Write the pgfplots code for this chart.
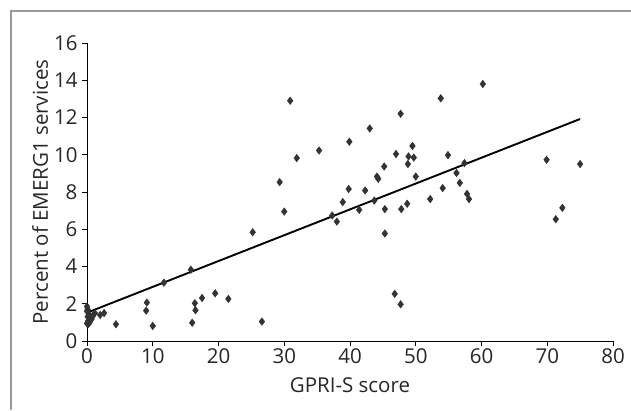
\documentclass[border=0pt]{standalone}
\usepackage{pgfplots}
\pgfplotsset{compat=1.18}
\usepackage{fontspec}
\setmainfont{Open Sans}
\begin{document}
\begin{tikzpicture}[x=1pt,y=1pt]
\path[use as bounding box] (0,0) rectangle (631,410);
\draw[gray!80, line width=1.2pt] (11,0) -- (11,399) -- (631,399);
\begin{axis}[
  at={(87pt,69pt)}, anchor=origin,
  scale only axis, width=526pt, height=298pt,
  xmin=0, xmax=80, ymin=0, ymax=16,
  axis lines=left, axis line style={-, line width=0.8pt, black},
  xtick={0,10,...,80}, ytick={0,2,...,16},
  tick style={black, line width=0.8pt},
  tick align=outside, major tick length=5pt,
  /pgf/number format/assume math mode=true,
  ticklabel style={font=\fontsize{20.5}{20.5}\selectfont, text=black!85},
  label style={font=\fontsize{20.5}{20.5}\selectfont, text=black!85},
  xticklabel style={yshift=1pt},
  yticklabel style={xshift=-1pt},
  xlabel={GPRI-S score}, ylabel={Percent of EMERG1 services},
  xlabel style={yshift=-7pt}, ylabel style={yshift=-1pt},
  clip=false,
]
\addplot[only marks, mark=diamond*, mark size=3.8pt, draw=black!80, fill=black!80] coordinates {
(0,1.85)(0,1.6)(0.1,1.3)(0.2,1.1)(0,0.95)(0.4,1.0)(0.6,1.2)(0.9,1.35)(1.2,1.5)(0.3,1.45)
(0.1,1.70)(0.2,0.91)(0.7,1.18)(2.0,1.4)(2.6,1.5)(4.4,0.90)(9.1,2.06)(9.0,1.63)(10.0,0.81)
(11.7,3.13)(15.8,3.83)(16.0,0.98)(16.4,2.03)(16.5,1.65)(17.5,2.31)(19.5,2.56)(21.5,2.26)
(25.2,5.84)(26.6,1.04)(29.3,8.53)(30.9,12.9)(30.0,6.95)(31.9,9.82)(35.3,10.23)(39.9,10.7)
(39.8,8.16)(38.9,7.46)(37.3,6.74)(38.0,6.41)(41.4,7.04)(42.3,8.08)(43.0,11.41)(43.7,7.54)
(44.1,8.83)(44.3,8.71)(45.2,9.37)(45.3,7.08)(45.3,5.77)(47.0,10.04)(47.7,12.2)(47.8,7.08)
(48.7,7.37)(48.8,9.5)(48.9,9.91)(49.5,10.47)(49.7,9.85)(50.0,8.83)(52.2,7.62)(54.1,8.21)
(53.8,13.03)(54.9,9.98)(46.8,2.53)(47.7,1.97)(56.2,9.02)(56.7,8.49)(57.4,9.55)(57.8,7.90)
(58.1,7.62)(60.2,13.8)(69.9,9.73)(75.0,9.5)(72.3,7.15)(71.3,6.54)
};
\addplot[black, line width=1.9pt] coordinates {(0,1.52)(75,11.92)};
\end{axis}
\end{tikzpicture}
\end{document}
